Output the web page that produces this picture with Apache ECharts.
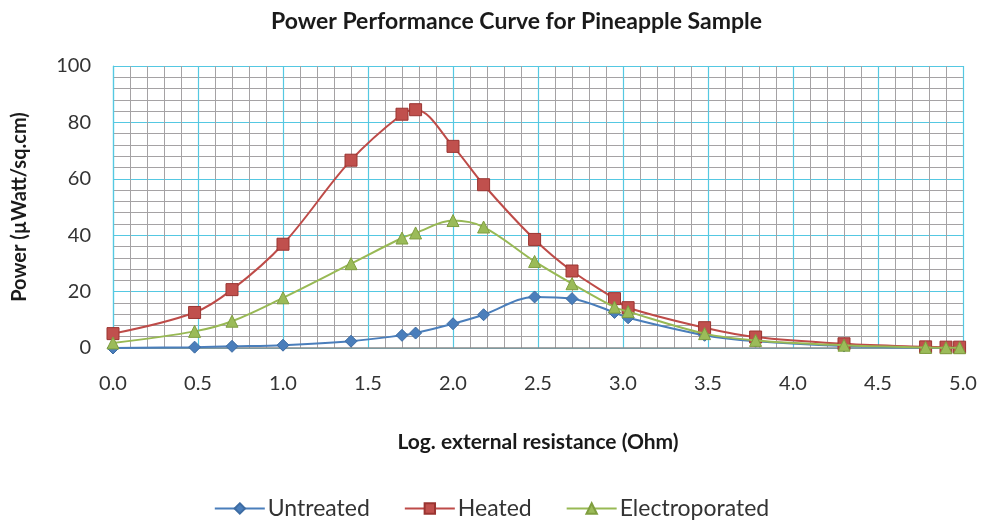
<!DOCTYPE html>
<html>
<head>
<meta charset="utf-8">
<script src="https://cdn.jsdelivr.net/npm/echarts@6/dist/echarts.min.js"></script>
<style>html,body{margin:0;padding:0;background:#fff;}#c{width:983px;height:527px;}</style>
</head>
<body>
<div id="c"></div>
<script>
const xValues = [0, 0.48, 0.70, 1.0, 1.40, 1.70, 1.78, 2.0, 2.18, 2.48, 2.70, 2.95, 3.03, 3.48, 3.78, 4.30, 4.78, 4.90, 4.98];
const untreated = [0.0, 0.3, 0.6, 1.0, 2.4, 4.5, 5.3, 8.6, 11.8, 18.1, 17.5, 12.6, 10.7, 4.5, 2.4, 0.7, 0.1, 0.0, 0.0];
const heated = [5.1, 12.6, 20.7, 36.8, 66.6, 82.9, 84.5, 71.5, 57.9, 38.5, 27.3, 17.5, 14.3, 7.2, 3.9, 1.5, 0.4, 0.3, 0.3];
const electroporated = [1.8, 5.9, 9.5, 17.8, 29.9, 39.0, 40.8, 45.2, 42.9, 30.7, 22.8, 14.5, 12.9, 5.1, 2.7, 1.0, 0.2, 0.1, 0.1];
const xTicks = ['0.0','0.5','1.0','1.5','2.0','2.5','3.0','3.5','4.0','4.5','5.0'];
const yTicks = [0, 20, 40, 60, 80, 100];

const pairs = arr => xValues.map((x, i) => [x, arr[i]]);
const FONT = 'Lato, "Open Sans", sans-serif';

const chart = echarts.init(document.getElementById('c'), null, {renderer: 'canvas'});
chart.setOption({
  animation: false,
  backgroundColor: '#ffffff',
  title: {
    text: 'Power Performance Curve for Pineapple Sample',
    left: 266, top: 5,
    textStyle: {fontFamily: FONT, fontSize: 23, fontWeight: 'bold', color: '#1a1a1a'}
  },
  legend: {
    bottom: 2, left: 'center',
    itemWidth: 50, itemHeight: 13, itemGap: 34,
    textStyle: {fontFamily: FONT, fontSize: 23, color: '#333', padding: [0, 0, 0, -2]},
    data: ['Untreated', 'Heated', 'Electroporated']
  },
  grid: {left: 113, right: 20, top: 66, bottom: 179, containLabel: false},
  xAxis: {
    type: 'value', min: 0, max: 5, interval: 0.5,
    name: 'Log. external resistance (Ohm)', nameLocation: 'middle', nameGap: 84,
    nameTextStyle: {fontFamily: FONT, fontSize: 21, fontWeight: 'bold', color: '#1a1a1a'},
    axisLine: {show: true, lineStyle: {color: '#8a8a8a', width: 1.5}},
    axisTick: {show: false},
    axisLabel: {fontFamily: FONT, fontSize: 20, color: '#333', margin: 26,
      formatter: v => xTicks[Math.round(v / 0.5)] || v.toFixed(1)},
    splitLine: {show: true, lineStyle: {color: '#55c8e2', width: 1.2}},
    minorTick: {show: false, splitNumber: 5},
    minorSplitLine: {show: true, lineStyle: {color: '#a5a2a4', width: 1}}
  },
  yAxis: {
    type: 'value', min: 0, max: 100, interval: 20,
    name: 'Power (\u00b5Watt/sq.cm)', nameLocation: 'middle', nameGap: 83, nameRotate: 90,
    nameTextStyle: {fontFamily: FONT, fontSize: 20, fontWeight: 'bold', color: '#1a1a1a'},
    axisLine: {show: true, lineStyle: {color: '#55c8e2', width: 1.2}},
    axisTick: {show: false},
    axisLabel: {fontFamily: FONT, fontSize: 20, color: '#333', margin: 22,
      formatter: v => yTicks.includes(v) ? String(v) : ''},
    splitLine: {show: true, lineStyle: {color: '#55c8e2', width: 1.2}},
    minorTick: {show: false, splitNumber: 5},
    minorSplitLine: {show: true, lineStyle: {color: '#a5a2a4', width: 1}}
  },
  series: [
    {
      name: 'Untreated', type: 'line', data: pairs(untreated), smooth: 0.35,
      symbol: 'diamond', symbolSize: 12,
      lineStyle: {color: '#4a7ebb', width: 2},
      itemStyle: {color: '#4a7ebb', borderColor: '#3d6ca3', borderWidth: 1},
      z: 3
    },
    {
      name: 'Heated', type: 'line', data: pairs(heated), smooth: 0.35,
      symbol: 'rect', symbolSize: 12,
      lineStyle: {color: '#be4b48', width: 2},
      itemStyle: {color: '#c0504d', borderColor: '#9a3431', borderWidth: 1},
      z: 4
    },
    {
      name: 'Electroporated', type: 'line', data: pairs(electroporated), smooth: 0.35,
      symbol: 'triangle', symbolSize: 12,
      lineStyle: {color: '#98b954', width: 2},
      itemStyle: {color: '#9bbb59', borderColor: '#7f9e3f', borderWidth: 1},
      z: 5
    }
  ]
});
</script>
</body>
</html>
